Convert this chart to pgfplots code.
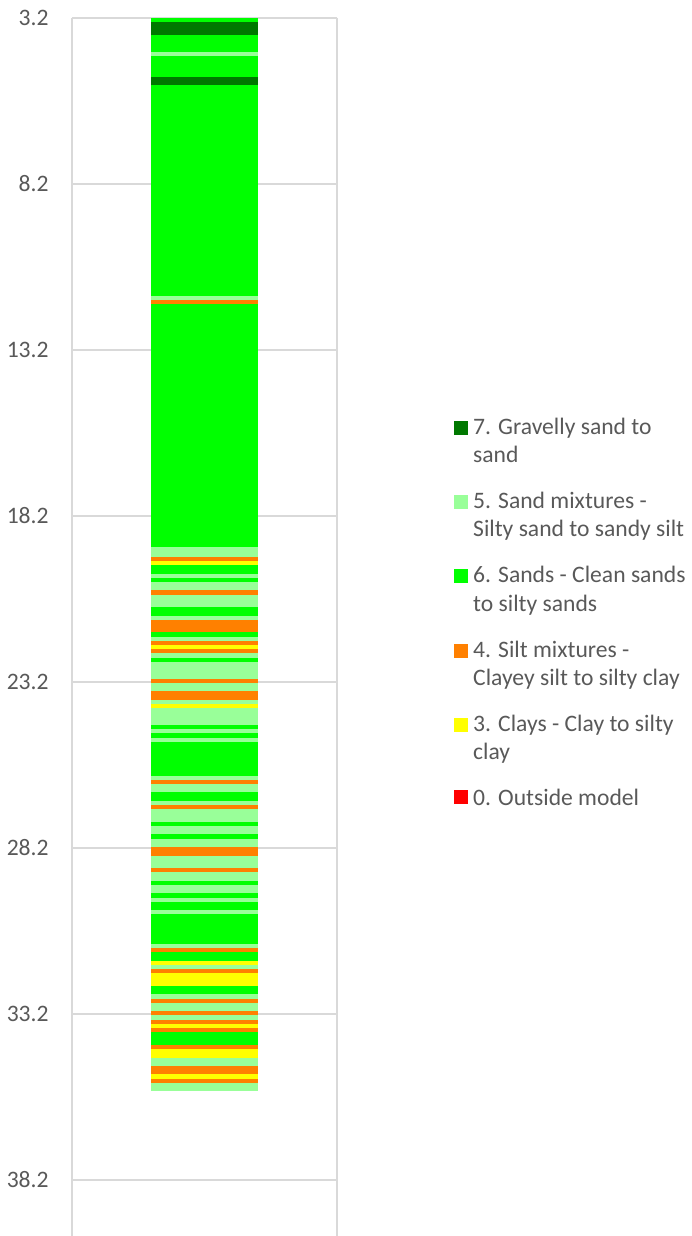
\documentclass[border=0pt]{standalone}
\usepackage{pgfplots}
\pgfplotsset{compat=1.18}
\usepackage{pgfplotstable}
\usepackage{fontspec}
\setmainfont{Carlito}
\definecolor{cDG}{RGB}{0,120,0}
\definecolor{cLG}{RGB}{153,255,153}
\definecolor{cG}{RGB}{0,255,0}
\definecolor{cO}{RGB}{255,128,0}
\definecolor{cY}{RGB}{255,255,0}
\definecolor{cR}{RGB}{255,0,0}
\definecolor{txtgray}{RGB}{89,89,89}
\definecolor{gridgray}{RGB}{217,217,217}

% 7. Gravelly sand to sand
\pgfplotstableread{
top bottom
3.32 3.71
4.98 5.22
}\tDG
% 5. Sand mixtures
\pgfplotstableread{
top bottom
4.22 4.34
11.57 11.69
19.15 19.43
19.95 20.07
20.19 20.43
20.58 20.94
21.21 21.33
21.85 21.97
22.33 22.48
22.60 23.11
23.23 23.47
23.74 23.86
23.98 24.50
24.62 24.74
24.89 25.01
26.03 26.15
26.27 26.51
26.78 26.90
27.02 27.42
27.54 27.78
27.93 28.17
28.44 28.80
28.92 29.19
29.31 29.56
29.71 29.83
30.07 30.19
31.09 31.21
31.72 31.84
32.60 32.75
32.87 33.11
33.23 33.38
34.52 34.77
35.28 35.52
}\tLG
% 6. Sands
\pgfplotstableread{
top bottom
3.20 3.32
3.71 4.22
4.34 4.98
5.22 11.57
11.81 19.15
19.68 19.95
20.07 20.19
20.94 21.21
21.69 21.85
22.48 22.60
24.50 24.62
24.74 24.89
25.01 26.03
26.51 26.78
27.42 27.54
27.78 27.93
29.19 29.31
29.56 29.71
29.83 30.07
30.19 31.09
31.33 31.60
32.36 32.60
33.74 34.13
}\tG
% 4. Silt mixtures
\pgfplotstableread{
top bottom
11.69 11.81
19.43 19.56
20.43 20.58
21.33 21.69
21.97 22.09
22.21 22.33
23.11 23.23
23.47 23.74
26.15 26.27
26.90 27.02
28.17 28.44
28.80 28.92
31.21 31.33
31.84 31.96
32.75 32.87
33.11 33.23
33.38 33.50
33.62 33.74
34.13 34.25
34.77 35.01
35.16 35.28
}\tO
% 3. Clays
\pgfplotstableread{
top bottom
19.56 19.68
22.09 22.21
23.86 23.98
31.60 31.72
31.96 32.36
33.50 33.62
34.25 34.52
35.01 35.16
}\tY

\pgfplotsset{
  layer/.style={forget plot, draw=none, mark=none,
    error bars/.cd, y dir=both, y explicit, error mark=none,
    error bar style={line width=53.5pt, draw=#1}},
  sqtwo/.style={legend image code/.code={\fill[#1] (0pt,3.85pt) rectangle (6.5pt,10.35pt);}},
  sqone/.style={legend image code/.code={\fill[#1] (0pt,-2.4pt) rectangle (6.5pt,4.1pt);}},
}

\begin{document}
\begin{tikzpicture}
\begin{axis}[
  at={(36pt,0pt)}, anchor=south west,
  scale only axis, width=132.5pt, height=609pt,
  xmin=0, xmax=2, ymin=3.2, ymax=39.89, y dir=reverse,
  axis line style={draw=none},
  xtick={0,2}, xticklabels={}, xmajorgrids,
  ytick={3.2,8.2,13.2,18.2,23.2,28.2,33.2,38.2},
  yticklabels={3.2,8.2,13.2,18.2,23.2,28.2,33.2,38.2},
  ymajorgrids,
  major grid style={draw=gridgray, line width=0.8pt},
  major tick length=0pt,
  yticklabel style={font=\fontsize{11.8}{14}\selectfont, text=txtgray, inner sep=0pt, xshift=-11.5pt},
  legend cell align=left,
  legend style={draw=none, fill=none, at={(axis description cs:1.4415,0.672)}, anchor=north west,
    inner sep=0pt, font=\fontsize{11.8}{14.15}\selectfont, text=txtgray,
    nodes={align=left, inner sep=0pt}, row sep=13.3pt, column sep=2.5pt},
]
\addplot[layer=cG] table[x expr=1, y expr={(\thisrow{top}+\thisrow{bottom})/2}, y error expr={(\thisrow{bottom}-\thisrow{top})/2}] {\tG};
\addplot[layer=cDG] table[x expr=1, y expr={(\thisrow{top}+\thisrow{bottom})/2}, y error expr={(\thisrow{bottom}-\thisrow{top})/2}] {\tDG};
\addplot[layer=cLG] table[x expr=1, y expr={(\thisrow{top}+\thisrow{bottom})/2}, y error expr={(\thisrow{bottom}-\thisrow{top})/2}] {\tLG};
\addplot[layer=cO] table[x expr=1, y expr={(\thisrow{top}+\thisrow{bottom})/2}, y error expr={(\thisrow{bottom}-\thisrow{top})/2}] {\tO};
\addplot[layer=cY] table[x expr=1, y expr={(\thisrow{top}+\thisrow{bottom})/2}, y error expr={(\thisrow{bottom}-\thisrow{top})/2}] {\tY};

\addlegendimage{sqtwo=cDG}\addlegendentry{7. Gravelly sand to\\sand}
\addlegendimage{sqtwo=cLG}\addlegendentry{5. Sand mixtures -\\Silty sand to sandy silt}
\addlegendimage{sqtwo=cG}\addlegendentry{6. Sands - Clean sands\\to silty sands}
\addlegendimage{sqtwo=cO}\addlegendentry{4. Silt mixtures -\\Clayey silt to silty clay}
\addlegendimage{sqtwo=cY}\addlegendentry{3. Clays - Clay to silty\\clay}
\addlegendimage{sqone=cR}\addlegendentry{0. Outside model}
\end{axis}
\pgfresetboundingbox
\useasboundingbox (0,0) rectangle (345.5pt,618pt);
\end{tikzpicture}
\end{document}
